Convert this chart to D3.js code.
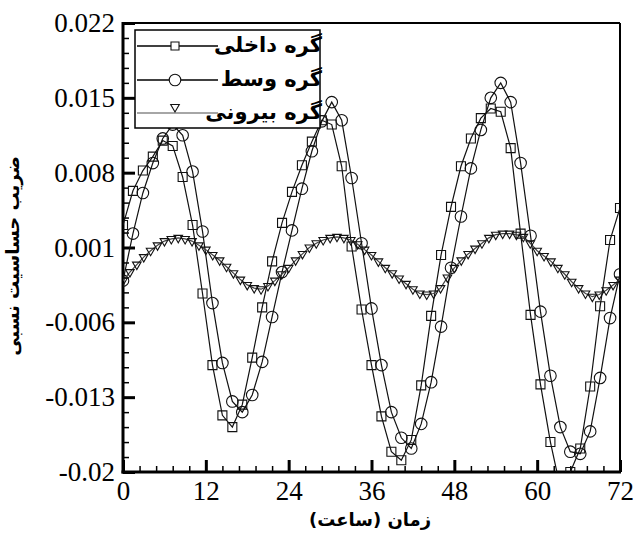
<!DOCTYPE html>
<html><head><meta charset="utf-8">
<script src="https://cdn.jsdelivr.net/npm/d3@7"></script>
<style>body{margin:0;background:#fff}svg{display:block}</style>
</head><body>
<script>
// ---- data ----
const seriesNames = ["گره داخلی", "گره وسط", "گره بیرونی"];
const hoursCoarse = d3.range(0, 51).map(i => +(i * 1.44).toFixed(2));
const hoursFine = d3.range(0, 73);
const innerVals = [0.0031,0.0063,0.0082,0.0095,0.0110,0.0105,0.0076,0.0031,-0.0033,-0.0100,
  -0.0147,-0.0158,-0.0137,-0.0093,-0.0046,-0.0003,0.0033,0.0062,0.0087,0.0109,
  0.0129,0.0125,0.0086,0.0011,-0.0048,-0.0100,-0.0148,-0.0181,-0.0189,-0.0170,
  -0.0119,-0.0054,0.0003,0.0048,0.0086,0.0112,0.0131,0.0140,0.0137,0.0103,
  0.0023,-0.0053,-0.0118,-0.0172,-0.0215,-0.0200,-0.0178,-0.0120,-0.0045,0.0017,0.0047];
const middleVals = [-0.0021,0.0023,0.0061,0.0089,0.0112,0.0125,0.0115,0.0081,0.0025,-0.0042,
  -0.0098,-0.0134,-0.0144,-0.0128,-0.0097,-0.0055,-0.0013,0.0026,0.0065,0.0100,
  0.0128,0.0146,0.0129,0.0075,0.0014,-0.0047,-0.0100,-0.0144,-0.0168,-0.0178,
  -0.0155,-0.0116,-0.0064,-0.0009,0.0039,0.0084,0.0120,0.0150,0.0164,0.0146,
  0.0089,0.0021,-0.0050,-0.0110,-0.0158,-0.0181,-0.0183,-0.0162,-0.0112,-0.0056,-0.0015];
const outerVals = [-0.0021,-0.0013,-0.0006,0.0001,0.0007,0.0012,0.0016,0.0018,0.0019,0.0018,
  0.0016,0.0012,0.0008,0.0003,-0.0002,-0.0008,-0.0014,-0.0020,-0.0025,-0.0028,
  -0.0029,-0.0026,-0.0021,-0.0015,-0.0009,-0.0002,0.0004,0.0010,0.0014,0.0017,
  0.0019,0.0020,0.0019,0.0017,0.0013,0.0008,0.0003,-0.0003,-0.0009,-0.0014,
  -0.0019,-0.0024,-0.0029,-0.0033,-0.0034,-0.0033,-0.0028,-0.0018,-0.0009,-0.0002,
  0.0004,0.0009,0.0014,0.0019,0.0022,0.0023,0.0023,0.0022,0.0020,0.0014,
  0.0007,0.0002,-0.0003,-0.0009,-0.0015,-0.0022,-0.0028,-0.0033,-0.0036,-0.0034,
  -0.0030,-0.0025,-0.0020];
const xTicks = [0, 12, 24, 36, 48, 60, 72];
const xTickLabels = ["0", "12", "24", "36", "48", "60", "72"];
const yTicks = [0.022, 0.015, 0.008, 0.001, -0.006, -0.013, -0.02];
const yTickLabels = ["0.022", "0.015", "0.008", "0.001", "-0.006", "-0.013", "-0.02"];
const xTitle = "زمان (ساعت)";
const yTitle = "ضریب حساسیت نسبی";

// ---- layout ----
const W = 635, H = 542;
const L = 123, T = 23, R = 620, B = 472;
const svg = d3.select("body").append("svg").attr("width", W).attr("height", H);
const x = d3.scaleLinear().domain([0, 72]).range([L, R]);
const y = d3.scaleLinear().domain([-0.02, 0.022]).range([B, T]);

svg.append("defs").append("clipPath").attr("id", "clip")
  .append("rect").attr("x", L).attr("y", T).attr("width", R - L).attr("height", B - T);

const serif = "'Liberation Serif','Times New Roman',serif";
const fa = "'DejaVu Sans',sans-serif";

// minor ticks
const xMinor = d3.range(0, 31).map(i => i * 2.4).filter(v => Math.abs(v / 12 - Math.round(v / 12)) > 1e-6);
const yMinor = d3.range(0, 31).map(i => -0.02 + i * 0.0014).filter((v, i) => i % 5 !== 0);

const gxm = svg.append("g").attr("transform", `translate(0,${B})`)
  .call(d3.axisBottom(x).tickValues(xMinor).tickSize(-6).tickFormat(""));
gxm.selectAll("line").attr("stroke-width", 1.5);
const gym = svg.append("g").attr("transform", `translate(${L},0)`)
  .call(d3.axisLeft(y).tickValues(yMinor).tickSize(-6).tickFormat(""));
gym.selectAll("line").attr("stroke-width", 1.5);
[gxm, gym].forEach(g => g.select(".domain").remove());

const gx = svg.append("g").attr("transform", `translate(0,${B})`)
  .call(d3.axisBottom(x).tickValues(xTicks).tickSize(-12).tickPadding(9)
    .tickFormat((d, i) => xTickLabels[i]));
const gy = svg.append("g").attr("transform", `translate(${L},0)`)
  .call(d3.axisLeft(y).tickValues(yTicks).tickSize(-12).tickPadding(8)
    .tickFormat((d, i) => yTickLabels[i]));
[gx, gy].forEach(g => {
  g.select(".domain").remove();
  g.selectAll("line").attr("stroke-width", 3);
  g.selectAll("text").attr("font-family", serif).attr("font-size", 27).attr("fill", "#000");
});

// frame
svg.append("line").attr("x1", L).attr("x2", R).attr("y1", T).attr("y2", T).attr("stroke", "#000").attr("stroke-width", 2);
svg.append("line").attr("x1", R).attr("x2", R).attr("y1", T).attr("y2", B).attr("stroke", "#000").attr("stroke-width", 2);
svg.append("line").attr("x1", L).attr("x2", L).attr("y1", T - 1).attr("y2", B + 1.5).attr("stroke", "#000").attr("stroke-width", 3);
svg.append("line").attr("x1", L - 1.5).attr("x2", R + 1).attr("y1", B).attr("y2", B).attr("stroke", "#000").attr("stroke-width", 3);

// series
const series = [
  { name: seriesNames[0], xs: hoursCoarse, vals: innerVals, sym: d3.symbolSquare, size: 81, rot: 0, color: "#111" },
  { name: seriesNames[1], xs: hoursCoarse, vals: middleVals, sym: d3.symbolCircle, size: 105, rot: 0, color: "#111" },
  { name: seriesNames[2], xs: hoursFine, vals: outerVals, sym: d3.symbolTriangle, size: 32, rot: 180, color: "#444" }
];
const plot = svg.append("g").attr("clip-path", "url(#clip)");
const line = d3.line().x(d => x(d[0])).y(d => y(d[1]));
series.forEach(s => {
  const pts = s.xs.map((h, i) => [h, s.vals[i]]);
  plot.append("path").datum(pts).attr("d", line).attr("fill", "none")
    .attr("stroke", s.color).attr("stroke-width", 1.2);
  plot.selectAll(null).data(pts).enter().append("path")
    .attr("d", d3.symbol().type(s.sym).size(s.size))
    .attr("transform", d => `translate(${x(d[0])},${y(d[1])}) rotate(${s.rot})`)
    .attr("fill", "none").attr("stroke", "#111").attr("stroke-width", 1.1);
});

// legend
const lg = svg.append("g");
lg.append("rect").attr("x", 135).attr("y", 30).attr("width", 185).attr("height", 98)
  .attr("fill", "#fff").attr("stroke", "#000").attr("stroke-width", 1.5);
const rowsY = [46, 80, 113];
const legendLine = ["#000", "#000", "#888"];
series.forEach((s, i) => {
  lg.append("line").attr("x1", 137).attr("x2", 218).attr("y1", rowsY[i]).attr("y2", rowsY[i])
    .attr("stroke", legendLine[i]).attr("stroke-width", 1.3);
  lg.append("path").attr("d", d3.symbol().type(s.sym).size(i === 0 ? 64 : s.size))
    .attr("transform", `translate(175,${rowsY[i] - (i === 2 ? 6 : 0)}) rotate(${s.rot})`)
    .attr("fill", "#fff").attr("stroke", "#111").attr("stroke-width", 1.1);
  lg.append("text").attr("x", 322).attr("y", rowsY[i]).attr("dy", "0.3em")
    .attr("text-anchor", "end").attr("font-family", fa).attr("font-weight", "bold")
    .attr("font-size", 21).text(s.name);
});

// titles
svg.append("text").attr("x", 370).attr("y", 526).attr("text-anchor", "middle")
  .attr("font-family", fa).attr("font-weight", "bold").attr("font-size", 18).text(xTitle);
svg.append("text").attr("transform", `translate(19,256) rotate(-90)`).attr("text-anchor", "middle")
  .attr("font-family", fa).attr("font-weight", "bold").attr("font-size", 18).text(yTitle);
</script>
</body></html>
